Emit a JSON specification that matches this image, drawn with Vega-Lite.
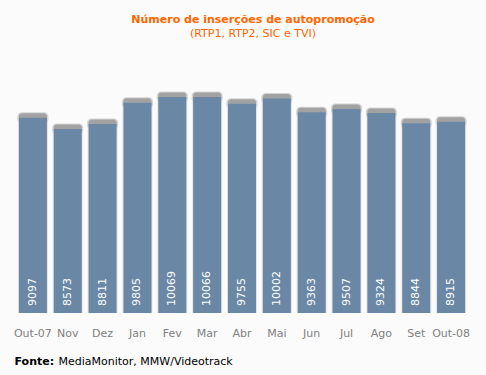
{
  "$schema": "https://vega.github.io/schema/vega-lite/v6.json",
  "autosize": "none",
  "width": 460,
  "height": 250,
  "padding": {"left": 12, "top": 63, "right": 14, "bottom": 62},
  "background": "#fbfbfb",
  "view": {"stroke": null},
  "title": {
    "text": "Número de inserções de autopromoção",
    "subtitle": "(RTP1, RTP2, SIC e TVI)",
    "anchor": "middle",
    "dx": 11,
    "offset": 24,
    "font": "DejaVu Sans",
    "fontSize": 11,
    "fontWeight": "bold",
    "color": "#ff6600",
    "subtitleFont": "DejaVu Sans",
    "subtitleFontSize": 11,
    "subtitleColor": "#ff6600",
    "subtitlePadding": 3
  },
  "data": {
    "values": [
      {"mes": "Out-07", "valor": 9097},
      {"mes": "Nov", "valor": 8573},
      {"mes": "Dez", "valor": 8811},
      {"mes": "Jan", "valor": 9805},
      {"mes": "Fev", "valor": 10069},
      {"mes": "Mar", "valor": 10066},
      {"mes": "Abr", "valor": 9755},
      {"mes": "Mai", "valor": 10002},
      {"mes": "Jun", "valor": 9363},
      {"mes": "Jul", "valor": 9507},
      {"mes": "Ago", "valor": 9324},
      {"mes": "Set", "valor": 8844},
      {"mes": "Out-08", "valor": 8915}
    ]
  },
  "encoding": {
    "x": {
      "field": "mes",
      "type": "nominal",
      "sort": null,
      "scale": {"paddingInner": 0.2, "paddingOuter": 0.2},
      "axis": {
        "labelAngle": 0,
        "labelFont": "DejaVu Sans",
        "labelFontSize": 11,
        "labelColor": "#808080",
        "labelPadding": 14,
        "ticks": false,
        "domain": false,
        "title": "MediaMonitor, MMW/Videotrack",
        "titleFont": "DejaVu Sans",
        "titleFontSize": 11,
        "titleFontWeight": "normal",
        "titleColor": "#000000",
        "titleAlign": "left",
        "titleBaseline": "alphabetic",
        "titleAnchor": "start",
        "titleX": 46,
        "titleY": 51
      }
    },
    "y": {
      "field": "valor",
      "type": "quantitative",
      "scale": {"domain": [0, 11654], "nice": false},
      "axis": {
        "labels": false,
        "ticks": false,
        "domain": false,
        "grid": false,
        "title": "Fonte:",
        "titleAngle": 0,
        "titleFont": "DejaVu Sans",
        "titleFontSize": 11,
        "titleFontWeight": "bold",
        "titleColor": "#000000",
        "titleAlign": "left",
        "titleBaseline": "alphabetic",
        "titleX": 2,
        "titleY": 301
      }
    }
  },
  "layer": [
    {
      "mark": {"type": "bar", "color": "#e2e2e2", "width": 30}
    },
    {
      "mark": {"type": "tick", "orient": "horizontal", "color": "#d4d4d4", "opacity": 1, "size": 31, "thickness": 11, "cornerRadius": 4}
    },
    {
      "mark": {"type": "tick", "orient": "horizontal", "color": "#a2a2a2", "opacity": 1, "size": 28, "thickness": 9, "cornerRadius": 3}
    },
    {
      "mark": {"type": "bar", "color": "#6a88a6", "width": 28}
    },
    {
      "mark": {"type": "text", "angle": 270, "align": "left", "baseline": "middle", "dx": 7, "color": "#ffffff", "font": "DejaVu Sans", "fontSize": 11},
      "encoding": {
        "y": {"datum": 0},
        "text": {"field": "valor", "type": "quantitative", "format": "d"}
      }
    }
  ]
}
